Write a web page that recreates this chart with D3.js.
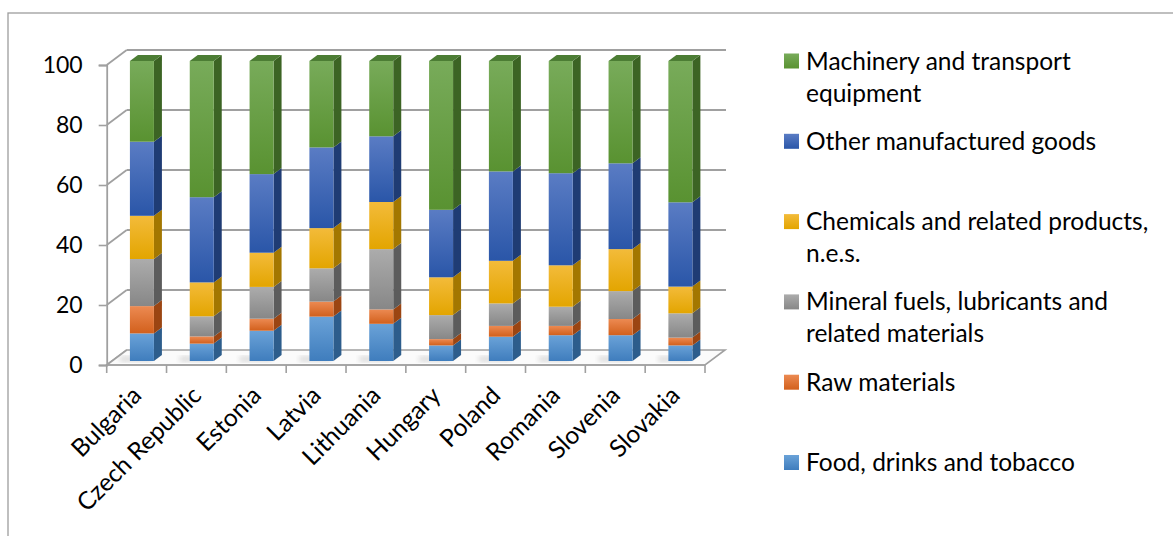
<!DOCTYPE html>
<html>
<head>
<meta charset="utf-8">
<script src="https://cdn.jsdelivr.net/npm/d3@7"></script>
<style>
  body { margin: 0; background: #fff; }
  svg { display: block; font-family: Lato, "Open Sans", sans-serif; }
</style>
</head>
<body>
<div id="chart"></div>
<script>
const countries = ['Bulgaria', 'Czech Republic', 'Estonia', 'Latvia', 'Lithuania',
  'Hungary', 'Poland', 'Romania', 'Slovenia', 'Slovakia'];

// shares in %, stacked bottom to top
const food      = [9.2, 5.8, 10.1, 14.8, 12.4, 5.2, 8.1, 8.6, 8.6, 5.2];
const raw       = [9.1, 2.4, 4.0, 5.0, 4.8, 2.1, 3.6, 3.1, 5.4, 2.6];
const mineral   = [15.7, 6.7, 10.6, 11.1, 20.1, 8.0, 7.5, 6.4, 9.3, 8.1];
const chemicals = [14.4, 11.3, 11.4, 13.4, 15.7, 12.6, 14.2, 13.8, 14.0, 8.9];
const other     = [24.7, 28.4, 26.2, 26.9, 21.9, 22.5, 29.8, 30.7, 28.6, 28.1];
const machinery = [26.9, 45.4, 37.7, 28.8, 25.1, 49.6, 36.8, 37.4, 34.1, 47.1];

const seriesKeys = ['food', 'raw', 'mineral', 'chemicals', 'other', 'machinery'];
const seriesNames = {
  food: ['Food, drinks and tobacco'],
  raw: ['Raw materials'],
  mineral: ['Mineral fuels, lubricants and', 'related materials'],
  chemicals: ['Chemicals and related products,', 'n.e.s.'],
  other: ['Other manufactured goods'],
  machinery: ['Machinery and transport', 'equipment']
};
const yTicks = [0, 20, 40, 60, 80, 100];

// front top, front bottom, side, top face
const palette = {
  food:      ['#6aa2d8', '#3f7dbd', '#2d5d8c'],
  raw:       ['#ec8a52', '#d2601c', '#9b4512'],
  mineral:   ['#acacac', '#878787', '#5c5c5c'],
  chemicals: ['#f3bb3a', '#e3a500', '#a37700'],
  other:     ['#5a7cc4', '#2a56a8', '#1f3c74'],
  machinery: ['#78ab5a', '#599231', '#3c6424', '#4c7d34']
};

const table = countries.map((c, i) => ({
  country: c, food: food[i], raw: raw[i], mineral: mineral[i],
  chemicals: chemicals[i], other: other[i], machinery: machinery[i]
}));

const width = 1173, height = 536;
const depth = [20, -15];          // floor / wall depth
const barFront = [5.3, -4];       // bar front face offset into depth
const barDepth = [8, -6];         // bar thickness
const barW = 24;
const fontSize = 24.5;

const svg = d3.select('#chart').append('svg')
  .attr('width', width).attr('height', height);

const defs = svg.append('defs');
seriesKeys.forEach((k) => {
  const g = defs.append('linearGradient').attr('id', 'g-' + k)
    .attr('x1', 0).attr('y1', 0).attr('x2', 0).attr('y2', 1);
  g.append('stop').attr('offset', 0).attr('stop-color', palette[k][0]);
  g.append('stop').attr('offset', 1).attr('stop-color', palette[k][1]);
});
defs.append('filter').attr('id', 'blur')
  .append('feGaussianBlur').attr('stdDeviation', 2.5);

// chart frame
svg.append('rect')
  .attr('x', 8).attr('y', 13).attr('width', 1180).attr('height', 540)
  .attr('fill', 'none').attr('stroke', '#9d9d9d').attr('stroke-width', 1.3);

const x = d3.scaleBand().domain(countries).range([106.7, 705]);
const y = d3.scaleLinear().domain([0, 100]).range([365, 65]);
const x0 = x.range()[0], x1 = x.range()[1];

const grid = svg.append('g')
  .attr('stroke', '#a0a0a0').attr('stroke-width', 1.8).attr('fill', 'none');

// back wall gridlines and side-wall diagonals
yTicks.forEach((t) => {
  if (t > 0) {
    grid.append('line')
      .attr('x1', x0 + depth[0]).attr('y1', y(t) + depth[1])
      .attr('x2', x1 + depth[0] + 1).attr('y2', y(t) + depth[1]);
  }
  grid.append('line')
    .attr('x1', x0).attr('y1', y(t))
    .attr('x2', x0 + depth[0]).attr('y2', y(t) + depth[1]);
});

// floor
svg.append('path')
  .attr('d', `M${x0},${y(0)} L${x0 + depth[0]},${y(0) + depth[1]} L${x1 + depth[0]},${y(0) + depth[1]} L${x1},${y(0)} Z`)
  .attr('fill', '#fbfbfb').attr('stroke', '#a0a0a0').attr('stroke-width', 1.6);

// y axis
const yAxis = svg.append('g')
  .attr('transform', `translate(${x0},0)`)
  .call(d3.axisLeft(y).tickValues(yTicks).tickSize(8).tickPadding(16));
yAxis.select('.domain').attr('stroke', '#a0a0a0').attr('stroke-width', 1.8);
yAxis.selectAll('.tick line').attr('stroke', '#a0a0a0').attr('stroke-width', 1.6);
yAxis.selectAll('.tick text')
  .attr('font-family', 'Lato, sans-serif').attr('font-size', 23).attr('fill', '#000');

// x axis line and boundary ticks
const xAxis = svg.append('g').attr('stroke', '#a0a0a0').attr('stroke-width', 1.6);
xAxis.append('line').attr('x1', x0).attr('x2', x1).attr('y1', y(0)).attr('y2', y(0));
countries.concat([null]).forEach((c) => {
  const xx = c ? x(c) : x1;
  xAxis.append('line').attr('x1', xx).attr('x2', xx).attr('y1', y(0)).attr('y2', y(0) + 8);
});

const stack = d3.stack().keys(seriesKeys)(table);

const bars = svg.append('g');
const cx = (d) => x(d.data.country) + x.bandwidth() / 2 + barFront[0];

// soft shadows on floor
bars.selectAll('.shadow').data(table).join('rect')
  .attr('class', 'shadow')
  .attr('x', (d) => x(d.country) + x.bandwidth() / 2 + barFront[0] - barW / 2 - 10)
  .attr('y', y(0) + barFront[1] - 5)
  .attr('width', barW + 8).attr('height', 6)
  .attr('fill', '#b0b0b0').attr('opacity', 0.4)
  .attr('filter', 'url(#blur)');

stack.forEach((layer) => {
  const k = layer.key;
  const g = bars.append('g');
  // side face
  g.selectAll('.side').data(layer).join('path')
    .attr('d', (d) => {
      const xr = cx(d) + barW / 2;
      const yt = y(d[1]) + barFront[1], yb = y(d[0]) + barFront[1];
      return `M${xr},${yt} L${xr + barDepth[0]},${yt + barDepth[1]} L${xr + barDepth[0]},${yb + barDepth[1]} L${xr},${yb} Z`;
    })
    .attr('fill', palette[k][2]);
  // front face
  g.selectAll('.front').data(layer).join('rect')
    .attr('x', (d) => cx(d) - barW / 2)
    .attr('y', (d) => y(d[1]) + barFront[1])
    .attr('width', barW)
    .attr('height', (d) => y(d[0]) - y(d[1]))
    .attr('fill', `url(#g-${k})`);
  if (k === 'machinery') {
    g.selectAll('.top').data(layer).join('path')
      .attr('d', (d) => {
        const xl = cx(d) - barW / 2, xr = cx(d) + barW / 2;
        const yt = y(d[1]) + barFront[1];
        return `M${xl},${yt} L${xl + barDepth[0]},${yt + barDepth[1]} L${xr + barDepth[0]},${yt + barDepth[1]} L${xr},${yt} Z`;
      })
      .attr('fill', palette[k][3]);
  }
});

// category labels
svg.append('g').selectAll('text').data(countries).join('text')
  .attr('transform', (c) => `translate(${x(c) + x.bandwidth() / 2 + barFront[0] + 1},397) rotate(-45)`)
  .attr('text-anchor', 'end')
  .attr('font-size', fontSize)
  .attr('fill', '#000')
  .text((c) => c);

// legend
const legendKeys = seriesKeys.slice().reverse();
const legend = svg.append('g').selectAll('g').data(legendKeys).join('g')
  .attr('transform', (k, i) => `translate(784,${61 + i * 80.3})`);
legend.append('rect')
  .attr('x', 0).attr('y', -7.5).attr('width', 15).attr('height', 15)
  .attr('fill', (k) => `url(#g-${k})`);
legend.append('text')
  .attr('x', 22).attr('y', 8.5)
  .attr('font-size', fontSize).attr('fill', '#000')
  .selectAll('tspan').data((k) => seriesNames[k]).join('tspan')
  .attr('x', 22).attr('dy', (d, i) => (i === 0 ? 0 : 32))
  .text((d) => d);
</script>
</body>
</html>
